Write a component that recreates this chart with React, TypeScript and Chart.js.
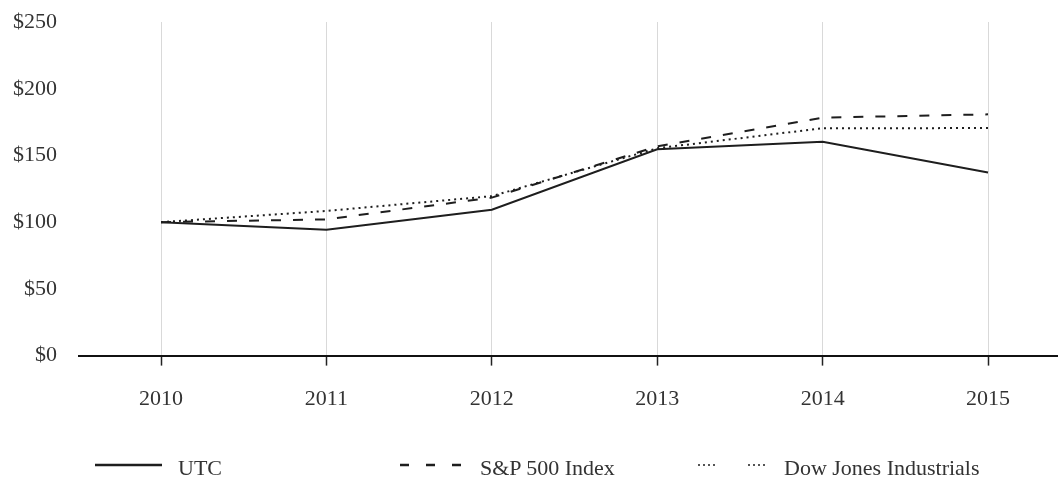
import React, { useEffect, useRef } from "react";
import { Chart, registerables } from "chart.js";

Chart.register(...registerables);

const years = [2010, 2011, 2012, 2013, 2014, 2015];
const yearLabels = ["2010", "2011", "2012", "2013", "2014", "2015"];
const utc = [100, 94.4, 109.3, 154.6, 160.2, 137.2];
const sp500 = [100, 102.1, 118.4, 156.8, 178.3, 180.8];
const dowJones = [100, 108.4, 119.5, 155.4, 170.4, 170.5];
const seriesNames = ["UTC", "S&P 500 Index", "Dow Jones Industrials"];
const yTickValues = [0, 50, 100, 150, 200, 250];

const FONT = "'Liberation Serif', 'Times New Roman', serif";
const TEXT = "#333";
const LINE = "#1e1e1e";

export default function App() {
  const canvasRef = useRef<HTMLCanvasElement | null>(null);

  useEffect(() => {
    document.body.style.margin = "0";
    const canvas = canvasRef.current;
    if (!canvas) return;
    const toPts = (vals: number[]) => years.map((x, i) => ({ x, y: vals[i] }));
    const chart = new Chart(canvas, {
      type: "line",
      data: {
        datasets: [
          {
            label: seriesNames[0],
            data: toPts(utc),
            borderColor: LINE,
            borderWidth: 2,
            pointRadius: 0,
            tension: 0,
          },
          {
            label: seriesNames[1],
            data: toPts(sp500),
            borderColor: LINE,
            borderWidth: 2,
            borderDash: [10, 12],
            pointRadius: 0,
            tension: 0,
          },
          {
            label: seriesNames[2],
            data: toPts(dowJones),
            borderColor: LINE,
            borderWidth: 2,
            borderDash: [2, 4],
            pointRadius: 0,
            tension: 0,
          },
        ],
      },
      options: {
        animation: false,
        responsive: false,
        maintainAspectRatio: false,
        layout: { padding: { top: 22, right: 0, bottom: 47, left: 0 } },
        plugins: { legend: { display: false }, tooltip: { enabled: false } },
        scales: {
          x: {
            type: "linear",
            min: 2009.504,
            max: 2015.423,
            grid: {
              color: "#d9d9d9",
              lineWidth: 1,
              tickColor: "#222",
              tickLength: 10,
              tickWidth: 1.5,
            },
            border: { color: "#111", width: 2 },
            ticks: {
              stepSize: 1,
              includeBounds: false,
              padding: 20,
              color: TEXT,
              font: { family: FONT, size: 22 },
              maxRotation: 0,
              callback: (v: any) => {
                const i = years.indexOf(Number(v));
                return i >= 0 ? yearLabels[i] : "";
              },
            },
          },
          y: {
            min: 0,
            max: 250,
            grid: { display: false, drawTicks: false },
            border: { display: false },
            afterBuildTicks: (scale: any) => {
              scale.ticks = yTickValues.map((value) => ({ value }));
            },
            afterFit: (scale: any) => {
              scale.width = 79;
              scale.paddingTop = 0;
              scale.paddingBottom = 0;
            },
            ticks: {
              padding: 22,
              color: TEXT,
              font: { family: FONT, size: 22 },
              callback: (v: any) => "$" + v,
            },
          },
        },
      },
    });
    return () => chart.destroy();
  }, []);

  const textStyle: React.CSSProperties = {
    position: "absolute",
    top: 468,
    transform: "translateY(-50%)",
    fontFamily: FONT,
    fontSize: 22,
    color: TEXT,
    whiteSpace: "nowrap",
    lineHeight: "26px",
  };

  return (
    <div style={{ position: "relative", width: 1058, height: 479, overflow: "hidden", background: "#fff" }}>
      <canvas ref={canvasRef} width={1058} height={479} style={{ position: "absolute", left: 0, top: 0 }} />
      <svg width={1058} height={479} style={{ position: "absolute", left: 0, top: 0, pointerEvents: "none" }}>
        <line x1={95} y1={465} x2={162} y2={465} stroke={LINE} strokeWidth={2.5} />
        <line x1={400} y1={465} x2={462} y2={465} stroke={LINE} strokeWidth={2.5} strokeDasharray="9 17" />
        <line x1={698} y1={465} x2={718} y2={465} stroke={LINE} strokeWidth={1.5} strokeDasharray="2 3" />
        <line x1={748} y1={465} x2={768} y2={465} stroke={LINE} strokeWidth={1.5} strokeDasharray="2 3" />
      </svg>
      <div style={{ ...textStyle, left: 178 }}>{seriesNames[0]}</div>
      <div style={{ ...textStyle, left: 480 }}>{seriesNames[1]}</div>
      <div style={{ ...textStyle, left: 784 }}>{seriesNames[2]}</div>
    </div>
  );
}
